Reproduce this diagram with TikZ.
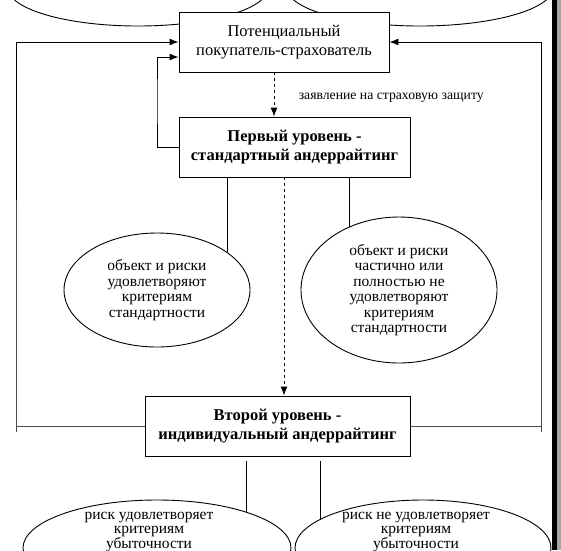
\documentclass[tikz,border=0pt]{standalone}
\usepackage{fontspec}
\setmainfont{Liberation Serif}
\usetikzlibrary{arrows.meta,shapes.geometric}
\begin{document}
\begin{tikzpicture}[x=1pt,y=-1pt,
  line width=0.9pt,
  boxn/.style={draw,fill=white,inner sep=0pt,align=center,font=\fontsize{16.5}{19}\selectfont},
  boldbox/.style={boxn,font=\fontsize{16.5}{19}\selectfont\bfseries},
  ell/.style={draw,ellipse,inner sep=0pt,align=center,font=\fontsize{15.5}{15.5}\selectfont},
  arr/.style={-{Latex[length=9pt,width=7pt]}},
  outer/.style={draw=black!70}
]
\useasboundingbox (0,0) rectangle (561,550);
\clip (0,0) rectangle (561,550);
\fill[white] (0,0) rectangle (561,550);

% top ellipses (cut off by the picture edge)
\node[ell,minimum width=260pt,minimum height=76pt] (tl) at (138,-12) {};
\node[ell,minimum width=266pt,minimum height=76pt] (tr) at (420,-12) {};

% boxes
\node[boxn,minimum width=210pt,minimum height=60pt] (b1) at (284,42) {Потенциальный\\покупатель-страхователь};
\node[boldbox,minimum width=231pt,minimum height=60pt] (f1) at (294.5,147) {Первый уровень -\\стандартный андеррайтинг};
\node[boldbox,minimum width=265pt,minimum height=60pt] (b2) at (277.5,426) {Второй уровень -\\индивидуальный андеррайтинг};

% ellipses
\node[ell,minimum width=186pt,minimum height=114pt] (L1) at (157,290) {объект и риски\\удовлетворяют\\критериям\\стандартности};
\node[ell,minimum width=196pt,minimum height=146pt] (R1) at (399,290) {объект и риски\\частично или\\полностью не\\удовлетворяют\\критериям\\стандартности};
\node[ell,minimum width=268pt,minimum height=96pt] (L2) at (157,548) {};
\node[ell,minimum width=256pt,minimum height=96pt] (R2) at (423,548) {};
\node[font=\fontsize{15.5}{14.5}\selectfont,align=center,anchor=north] (L2t) at (149,508) {риск удовлетворяет\\критериям\\убыточности};
\node[font=\fontsize{15.5}{14.5}\selectfont,align=center,anchor=north] (R2t) at (416,508) {риск не удовлетворяет\\критериям\\убыточности};

% label
\node[anchor=west,font=\fontsize{13.7}{15}\selectfont] (lab) at (295,98) {заявление на страховую защиту};

% coordinates of outer loops
\coordinate (oL) at (16,200);
\coordinate (oR) at (541,200);
\coordinate (iL) at (157,100);

% connectors
\draw[outer] (b2.west) -| (oL);
\draw[arr] (oL) |- (b1.west);
\draw[outer] (b2.east) -| (oR);
\draw[arr] (oR) |- (b1.east);
\draw[outer] (16,426) -- (16,432);
\draw[outer] (541,426) -- (541,432);
\draw[arr] (f1.west) -| (iL) |- ([yshift=-15pt]b1.west);
\draw[dashed,arr] ([xshift=-10pt]b1.south) -- ([xshift=-10pt]b1.south |- f1.north);
\draw[dashed,arr] ([xshift=-10.5pt]f1.south) -- ([xshift=-10.5pt]f1.south |- b2.north);
\draw (f1.south -| L1.28) -- (L1.28);
\draw (f1.south -| R1.128) -- (R1.128);
\draw ([yshift=-5pt]b2.south -| L2.22) -- (L2.22);
\draw ([yshift=-5pt]b2.south -| R2.164) -- (R2.164);

% right frame edge
\fill[black] (552,0) rectangle (557,550);
\fill[black!35] (557,0) rectangle (561,550);
\end{tikzpicture}
\end{document}
